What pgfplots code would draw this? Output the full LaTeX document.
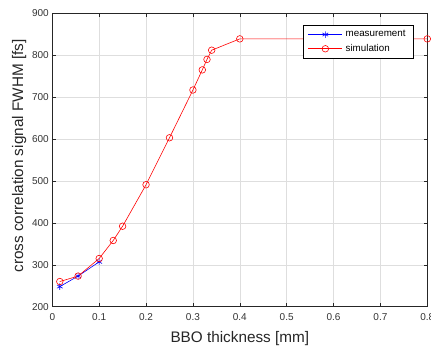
\documentclass[border=0pt]{standalone}
\usepackage{pgfplots}
\pgfplotsset{compat=1.18}
\usepackage{fontspec}
\setmainfont{Liberation Sans}
\begin{document}
\begin{tikzpicture}
\begin{axis}[name=ax, scale only axis, width=375pt, height=293.4pt,
 xmin=0, xmax=0.8, ymin=200, ymax=900,
 xtick={0,0.1,0.2,0.3,0.4,0.5,0.6,0.7,0.8},
 ytick={200,300,400,500,600,700,800,900},
 xticklabels={0,0.1,0.2,0.3,0.4,0.5,0.6,0.7,0.8},
 grid=major, grid style={color=black!13, line width=0.5pt},
 axis line style={color=black!85, line width=0.6pt},
 tick style={color=black!85, line width=0.5pt},
 tick align=inside, major tick length=3.5pt,
 tick label style={font=\fontsize{10}{12}\selectfont, color=black!80},
 xticklabel style={yshift=-3pt},
 /pgf/number format/assume math mode=true,
 label style={font=\fontsize{15.3}{18}\selectfont, color=black!85},
 xlabel={BBO thickness [mm]},
 xlabel style={yshift=-4.5pt},
 ylabel={cross correlation signal FWHM [fs]},
 ylabel style={yshift=-1pt, xshift=4pt},
 legend cell align=left,
 legend style={at={(0.668,0.9605)}, anchor=north west, draw=black, line width=0.5pt,
   font=\fontsize{9.8}{11}\selectfont, inner xsep=5pt, inner ysep=3.5pt, row sep=2pt,
   nodes={inner xsep=3pt, inner ysep=2pt},
   /tikz/every even column/.append style={column sep=8pt}},
 legend image code/.code={%
   \draw[#1, mark repeat=2, mark phase=2] plot coordinates {(0pt,0pt) (17pt,0pt) (34pt,0pt)};},
]
\addplot[color=blue, line width=0.6pt, mark=asterisk, mark size=3.3pt, mark options={solid, line width=0.6pt}]
 coordinates {(0.016,248) (0.055,273) (0.1,307)};
\addlegendentry{measurement}
\addplot[color=red, line width=0.6pt, mark=o, mark size=3.3pt, mark options={solid, line width=0.6pt}]
 coordinates {(0.016,260) (0.055,273) (0.1,315) (0.13,358) (0.15,392) (0.2,491) (0.25,603) (0.3,717) (0.32,765) (0.33,790) (0.34,812) (0.4,839) (0.8,839)};
\addlegendentry{simulation}
\end{axis}
\pgfresetboundingbox
\path ([xshift=-52.3pt,yshift=-41.3pt]ax.south west) rectangle ([xshift=3.7pt,yshift=13.3pt]ax.north east);
\end{tikzpicture}
\end{document}
